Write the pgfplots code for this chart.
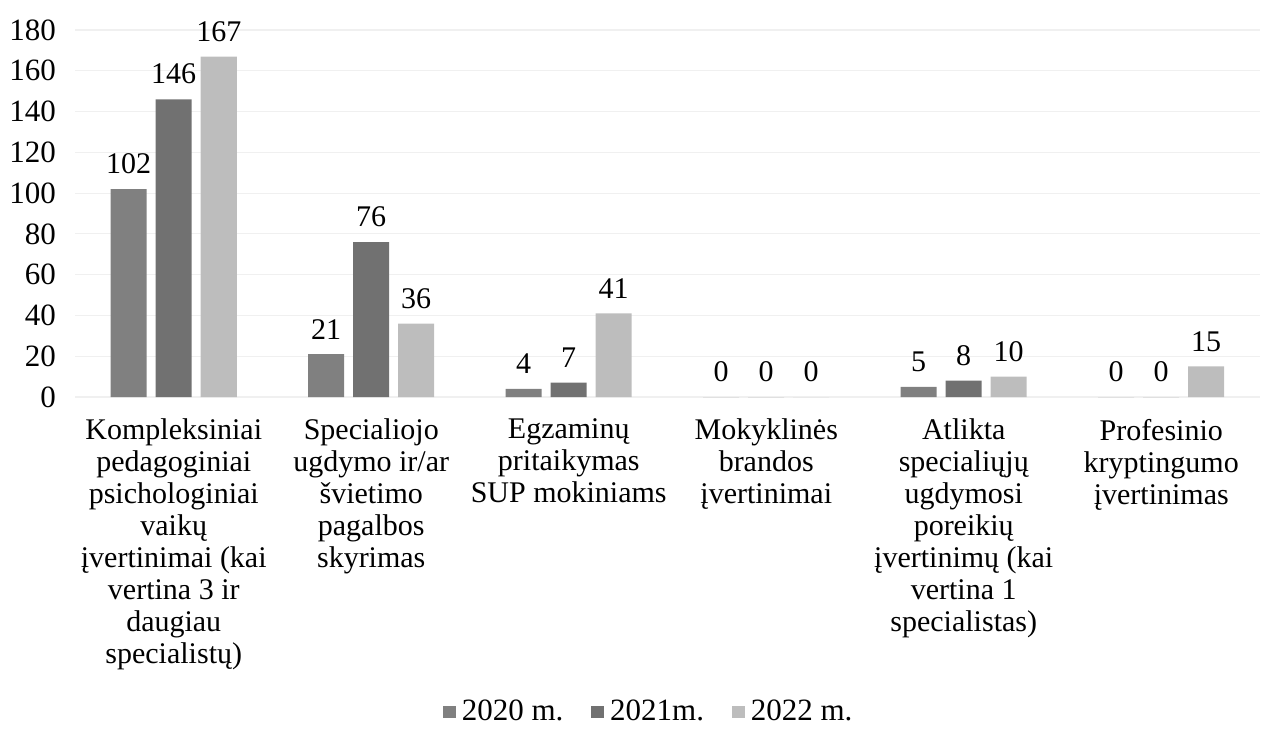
\documentclass[border=0pt]{standalone}
\usepackage{pgfplots}
\pgfplotsset{compat=1.18}
\usepackage{fontspec}
\setmainfont{Liberation Serif}
\definecolor{cA}{HTML}{808080}
\definecolor{cB}{HTML}{717171}
\definecolor{cC}{HTML}{BDBDBD}
\begin{document}
\begin{tikzpicture}
\path[use as bounding box] (-37.5pt,-171.5pt) rectangle (597.5pt,198.5pt);
\begin{axis}[
  at={(0,0)}, anchor=south west,
  scale only axis, width=592.5pt, height=183.5pt,
  ymin=0, ymax=180, ytick={0,20,...,180},
  xmin=-0.5, xmax=5.5,
  xtick={0,1,2,3,4,5},
  xticklabels={
    {Kompleksiniai\\pedagoginiai\\psichologiniai\\vaikų\\įvertinimai (kai\\vertina 3 ir\\daugiau\\specialistų)},
    {Specialiojo\\ugdymo ir/ar\\švietimo\\pagalbos\\skyrimas},
    {Egzaminų\\pritaikymas\\SUP mokiniams},
    {Mokyklinės\\brandos\\įvertinimai},
    {Atlikta\\specialiųjų\\ugdymosi\\poreikių\\įvertinimų (kai\\vertina 1\\specialistas)},
    {Profesinio\\kryptingumo\\įvertinimas}},
  xticklabel style={align=center, font=\fontsize{15}{16}\selectfont, anchor=north, yshift=-7.5pt},
  yticklabel style={font=\fontsize{15.5}{16}\selectfont, xshift=-6pt},
  /pgf/number format/assume math mode=true,
  axis line style={draw=none},
  major tick length=0pt,
  ymajorgrids, grid style={gray!12, line width=0.6pt},
  ybar=4.5pt, bar width=18pt,
  nodes near coords,
  every node near coord/.append style={font=\fontsize{15}{16}\selectfont, black, yshift=4pt},
  legend style={at={(0.485,0)}, anchor=center, yshift=-157.5pt, draw=none,
    font=\fontsize{15.5}{16}\selectfont, legend columns=3,
    /tikz/every odd column/.append style={column sep=1pt},
    /tikz/every even column/.append style={column sep=12pt}},
  legend image code/.code={\draw[#1, draw=none] (0pt,-3.2pt) rectangle (6.4pt,3.2pt);},
  clip=false,
]
\addplot[fill=cA, draw=none] coordinates {(0,102) (1,21) (2,4) (3,0) (4,5) (5,0)};
\addplot[fill=cB, draw=none] coordinates {(0,146) (1,76) (2,7) (3,0) (4,8) (5,0)};
\addplot[fill=cC, draw=none] coordinates {(0,167) (1,36) (2,41) (3,0) (4,10) (5,15)};
\legend{2020 m.,2021m.,2022 m.}
\end{axis}
\end{tikzpicture}
\end{document}
